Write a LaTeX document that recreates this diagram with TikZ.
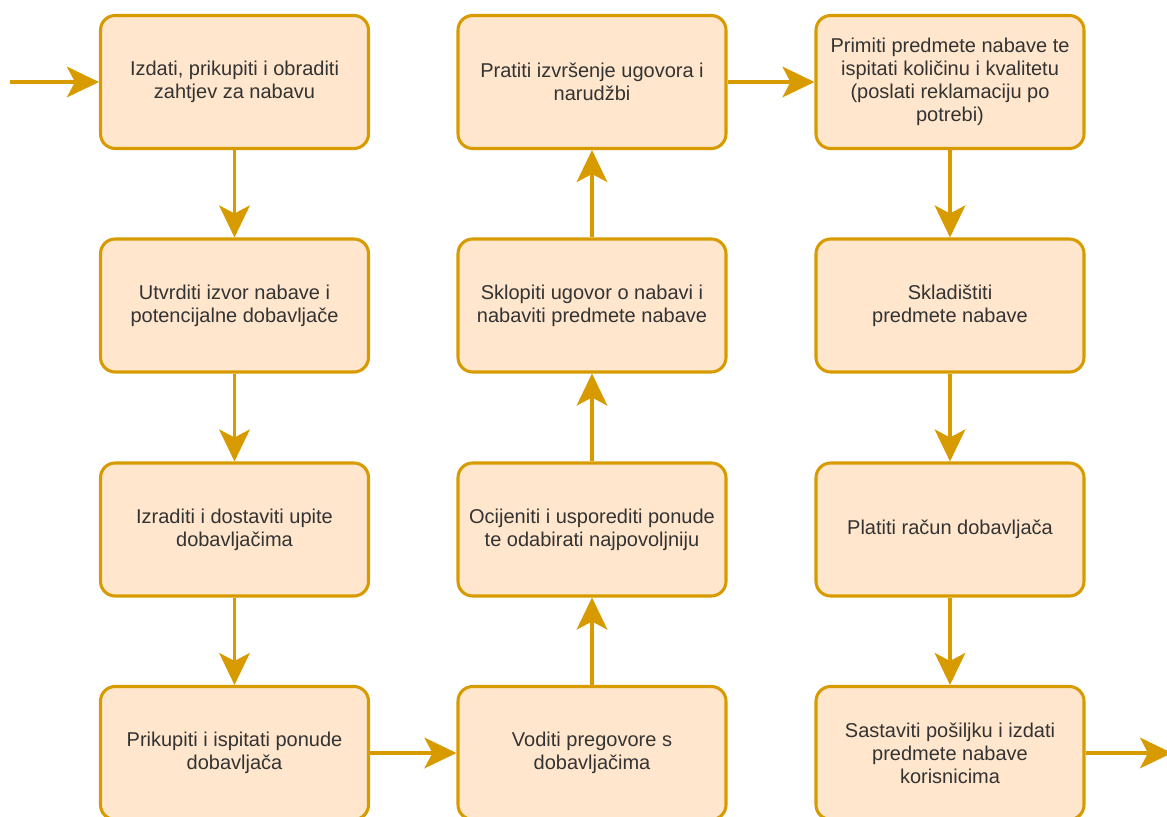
\documentclass[tikz,border=0pt]{standalone}
\usepackage{fontspec}
\setmainfont{Liberation Sans}
\usetikzlibrary{arrows.meta}
\definecolor{strk}{HTML}{D79B00}
\definecolor{fillc}{HTML}{FFE6CC}
\definecolor{txt}{HTML}{333333}
\begin{document}
\begin{tikzpicture}[x=0.75pt,y=-0.75pt,
  box/.style={draw=strk, fill=fillc, line width=2.3pt, rounded corners=11pt,
    minimum width=268*0.75pt, minimum height=133*0.75pt, align=center,
    text=txt, font=\fontsize{15pt}{17.3pt}\selectfont, inner sep=0pt},
  flow/.style={draw=strk, line width=2.3pt,
    -{Stealth[length=24pt, width=23pt, inset=6pt, fill=strk]}}]
\useasboundingbox (0,0) rectangle (1167,817);
\node[box] (a1) at (234.5,82) {Izdati, prikupiti i obraditi\\zahtjev za nabavu};
\node[box] (a2) at (234.5,305.5) {Utvrditi izvor nabave i\\potencijalne dobavljače};
\node[box] (a3) at (234.5,529.5) {Izraditi i dostaviti upite\\dobavljačima};
\node[box] (a4) at (234.5,753) {Prikupiti i ispitati ponude\\dobavljača};
\node[box] (b4) at (592,753) {Voditi pregovore s\\dobavljačima};
\node[box] (b3) at (592,529.5) {Ocijeniti i usporediti ponude\\te odabirati najpovoljniju};
\node[box] (b2) at (592,305.5) {Sklopiti ugovor o nabavi i\\nabaviti predmete nabave};
\node[box] (b1) at (592,82) {Pratiti izvršenje ugovora i\\narudžbi};
\node[box] (c1) at (950,82) {Primiti predmete nabave te\\ispitati količinu i kvalitetu\\(poslati reklamaciju po\\potrebi)};
\node[box] (c2) at (950,305.5) {Skladištiti\\predmete nabave};
\node[box] (c3) at (950,529.5) {Platiti račun dobavljača};
\node[box] (c4) at (950,753) {Sastaviti pošiljku i izdati\\predmete nabave\\korisnicima};
\coordinate (in) at (10,82);
\coordinate (out) at (1172,753);
\draw[flow] (in) -- (a1);
\draw[flow] (a1) -- (a2);
\draw[flow] (a2) -- (a3);
\draw[flow] (a3) -- (a4);
\draw[flow] (a4) -- (b4);
\draw[flow] (b4) -- (b3);
\draw[flow] (b3) -- (b2);
\draw[flow] (b2) -- (b1);
\draw[flow] (b1) -- (c1);
\draw[flow] (c1) -- (c2);
\draw[flow] (c2) -- (c3);
\draw[flow] (c3) -- (c4);
\draw[flow] (c4) -- (out);
\end{tikzpicture}
\end{document}
